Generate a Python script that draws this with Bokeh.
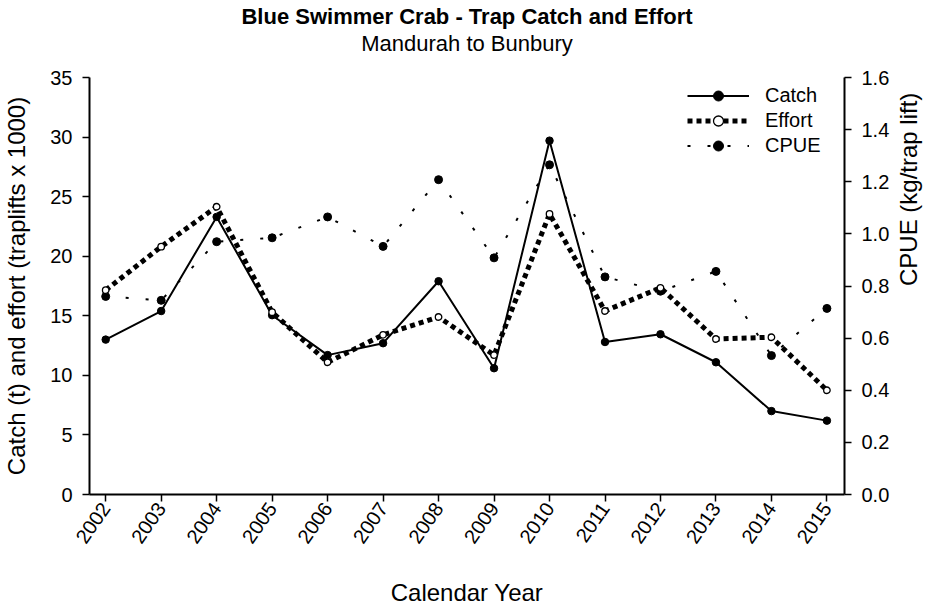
import math
from bokeh.plotting import figure
from bokeh.models import (Range1d, LinearAxis, FixedTicker, NumeralTickFormatter,
                          Legend, LegendItem, Title)
from bokeh.embed import file_html
from bokeh.resources import INLINE

# ---- data ----
years = [2002, 2003, 2004, 2005, 2006, 2007, 2008, 2009, 2010, 2011, 2012, 2013, 2014, 2015]
year_labels = [str(y) for y in years]
catch_t = [13.0, 15.4, 23.3, 15.05, 11.7, 12.7, 17.9, 10.6, 29.7, 12.8, 13.45, 11.1, 7.0, 6.2]
effort_k = [17.15, 20.8, 24.15, 15.3, 11.1, 13.4, 14.9, 11.7, 23.55, 15.4, 17.35, 13.05, 13.2, 8.75]
cpue = [0.76, 0.745, 0.97, 0.985, 1.065, 0.952, 1.208, 0.908, 1.265, 0.835, 0.78, 0.856, 0.533, 0.714]
left_ticks = [0, 5, 10, 15, 20, 25, 30, 35]
right_ticks = [0.0, 0.2, 0.4, 0.6, 0.8, 1.0, 1.2, 1.4, 1.6]

FONT = "Liberation Sans"

p = figure(width=938, height=608, output_backend="svg", toolbar_location=None,
           title=None,
           x_range=Range1d(2001.708, 2015.317), y_range=Range1d(0, 35),
           min_border_left=88, min_border_right=91, min_border_top=77, min_border_bottom=114)
p.outline_line_color = None
p.xgrid.visible = False
p.ygrid.visible = False
p.background_fill_color = "white"

p.extra_y_ranges = {"cpue": Range1d(0, 1.6)}
raxis = LinearAxis(y_range_name="cpue")
p.add_layout(raxis, "right")

for ax in [p.xaxis[0], p.yaxis[0], raxis]:
    ax.axis_line_width = 2
    ax.axis_line_color = "black"
    ax.major_tick_line_width = 1.5
    ax.major_tick_line_color = "black"
    ax.major_tick_in = 0
    ax.major_tick_out = 7
    ax.minor_tick_line_color = None
    ax.major_label_text_font = FONT
    ax.major_label_text_font_size = "20px"
    ax.major_label_text_color = "black"
    ax.axis_label_text_font = FONT
    ax.axis_label_text_font_size = "24px"
    ax.axis_label_text_font_style = "normal"
    ax.axis_label_text_color = "black"

xa = p.xaxis[0]
xa.ticker = FixedTicker(ticks=years)
xa.major_label_overrides = {y: s for y, s in zip(years, year_labels)}
xa.major_label_orientation = math.radians(55)
xa.major_label_standoff = 3
xa.axis_label = "Calendar Year"
xa.axis_label_standoff = 27

ya = p.yaxis[0]
ya.ticker = FixedTicker(ticks=left_ticks)
ya.major_label_standoff = 10
ya.axis_label = "Catch (t) and effort (traplifts x 1000)"
ya.axis_label_standoff = 17

raxis.ticker = FixedTicker(ticks=right_ticks)
raxis.formatter = NumeralTickFormatter(format="0.0")
raxis.major_label_standoff = 10
raxis.axis_label = "CPUE (kg/trap lift)"
raxis.axis_label_standoff = 16
raxis.axis_label_orientation = math.pi / 2

# ---- series ----
eff_line = p.line(years, effort_k, line_color="black", line_width=5, line_dash="5 4")
cpue_line = p.line(years, cpue, y_range_name="cpue", line_color="black", line_width=2,
                   line_dash="3 17")
catch_line = p.line(years, catch_t, line_color="black", line_width=2)
catch_pts = p.scatter(years, catch_t, size=7.5, marker="circle", fill_color="black",
                      line_color="black")
cpue_pts = p.scatter(years, cpue, y_range_name="cpue", size=8, marker="circle",
                     fill_color="black", line_color="black")
eff_pts = p.scatter(years, effort_k, size=6.5, marker="circle", fill_color="white",
                    line_color="black", line_width=1.3)

legend = Legend(items=[
    LegendItem(label="Catch", renderers=[catch_line, catch_pts]),
    LegendItem(label="Effort", renderers=[eff_line, eff_pts]),
    LegendItem(label="CPUE", renderers=[cpue_line, cpue_pts]),
], location=(598, 336))
legend.glyph_width = 62
legend.glyph_height = 25
legend.label_height = 25
legend.label_standoff = 16
legend.spacing = 0
legend.padding = 0
legend.margin = 0
legend.border_line_color = None
legend.background_fill_alpha = 0
legend.label_text_font = FONT
legend.label_text_font_size = "20px"
legend.label_text_color = "black"
p.add_layout(legend, "center")

# ---- titles (stacked from the frame outward) ----
spacer = Title(text=" ", text_font=FONT, text_font_size="10px", standoff=9,
               align="center")
subtitle = Title(text="Mandurah to Bunbury", text_font=FONT, text_font_size="22px",
                 text_font_style="normal", text_color="black", align="center", standoff=0)
main_title = Title(text="Blue Swimmer Crab - Trap Catch and Effort", text_font=FONT,
                   text_font_size="22px", text_font_style="bold", text_color="black",
                   align="center", standoff=0)
p.add_layout(spacer, "above")
p.add_layout(subtitle, "above")
p.add_layout(main_title, "above")

open("out.html", "w").write(file_html(p, INLINE))
